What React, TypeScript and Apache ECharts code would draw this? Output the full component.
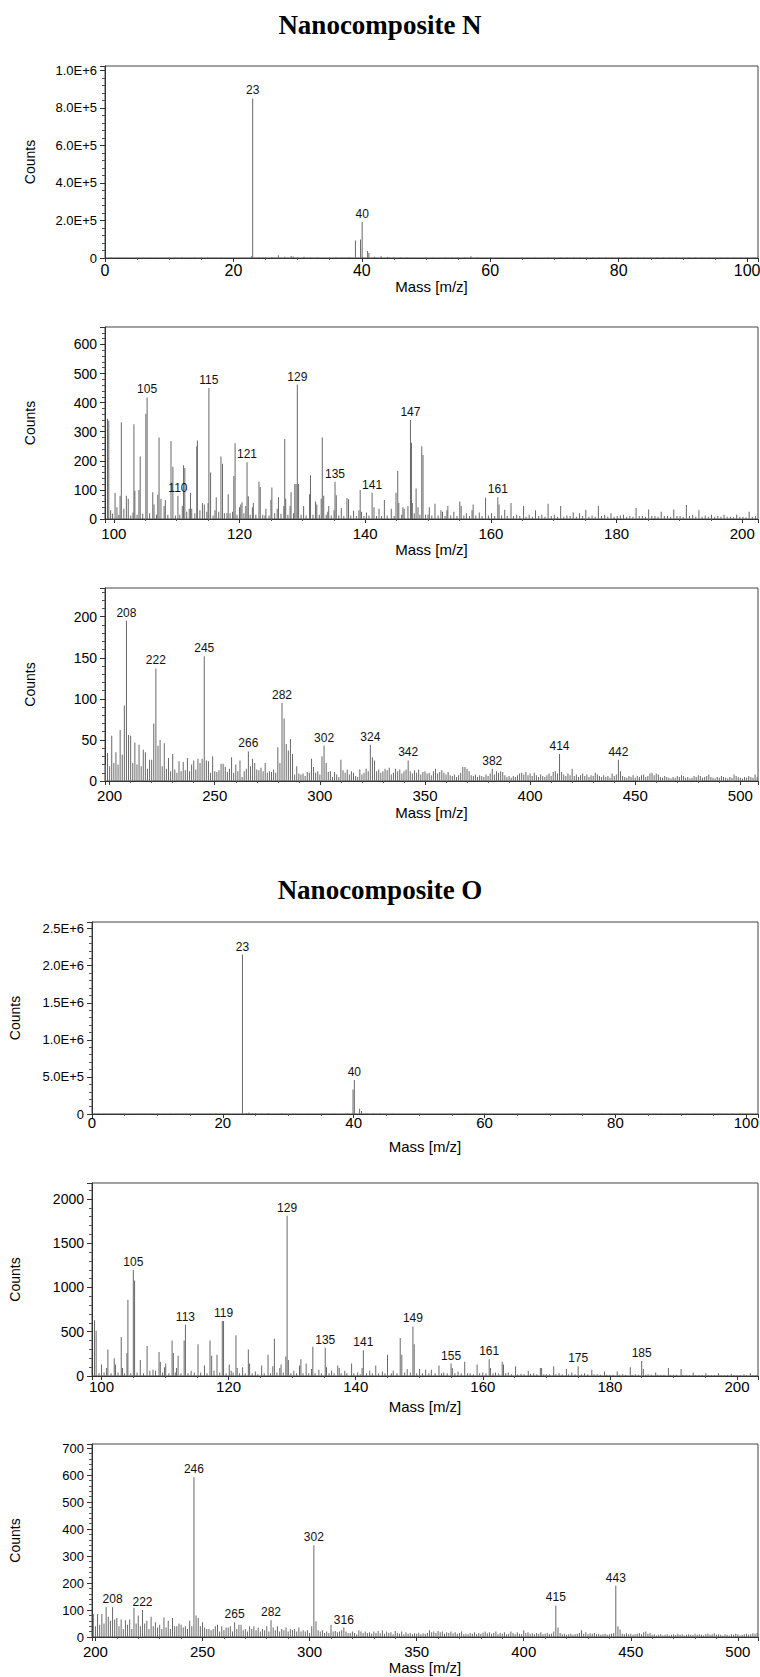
import React, { useEffect, useRef } from "react";
import * as echarts from "echarts";

const titleN = "Nanocomposite N";
const titleO = "Nanocomposite O";
const xName = "Mass [m/z]";
const yName = "Counts";

// ---------- Nanocomposite N, 0-100 ----------
const nLowPeaks: [number, number][] = [
  [1,1500],[2,1200],[3,1800],[4,1400],[5,1600],[6,1300],[7,1500],[8,1200],[9,1700],[10,1300],
  [11,1500],[12,2400],[13,1800],[14,2600],[15,2000],[16,2800],[17,1900],[18,2500],[19,1600],[20,1400],
  [21,1200],[22,1500],[22.8,9000],[23,850000],[23.5,3000],[24,4500],[24.6,3000],[25,4000],[26,5500],
  [27,15000],[28,6000],[29,11000],[29.3,8000],[30,3500],[31,6500],[32,3000],[33,2000],[34,1800],
  [35,2200],[36,2500],[37,3000],[38,4000],[39,93000],[39.8,98000],[40.05,192000],[40.9,37000],
  [41.1,26000],[42,7000],[43,9000],[44,5000],[45,3500],[46,2500],[47,2000],[48,1800],[50,2200],
  [51,1800],[53,2500],[54,2000],[55,3000],[56,2500],[57,9000],[58,2500],[59,1800],[60,1600],[62,1500],
  [64,1400],[65,1700],[67,1500],[69,2000],[70,1800],[71,2200],[72,2500],[73,2600],[74,2400],[75,2500],
  [76,2700],[77,2400],[78,2600],[79,2500],[80,2400],[81,2600],[82,2500],[83,2700],[84,2400],[85,2600],
  [86,2500],[87,2400],[88,2600],[89,2700],[90,2500],[91,2400],[92,2600],[93,2500],[94,2700],[95,2400],
  [96,2600],[97,2500],[98,2400],[99,2600],[100,2500],[101,2400],
];
const nLowLabels = [23, 40.05];

// ---------- Nanocomposite N, 100-200 ----------
const nMidPeaks: [number, number][] = [
  [99.0,345],[99.2,338],[99.5,30],[99.8,18],[100.2,89],[100.5,40],[100.8,15],[101.0,80],[101.2,333],
  [101.6,35],[102.0,80],[102.3,70],[102.7,12],[103.05,22],[103.2,326],[103.35,97],[103.7,15],[104.0,100],
  [104.2,215],[104.6,18],[105.1,362],[105.3,418],[105.7,20],[106.2,92],[106.4,50],[106.8,15],[107.0,83],
  [107.2,280],[107.5,70],[108.0,45],[108.2,65],[108.6,15],[109.1,268],[109.4,180],[109.8,12],[110.2,80],
  [110.5,15],[110.9,45],[111.1,185],[111.3,175],[111.6,25],[112.0,35],[112.2,90],[112.4,35],[112.9,20],
  [113.2,250],[113.3,270],[113.7,30],[114.1,55],[114.4,50],[114.8,25],[115.0,55],[115.13,450],[115.4,160],
  [115.8,12],[116.1,30],[116.3,75],[116.7,25],[117.05,215],[117.3,190],[117.6,20],[118.0,20],[118.2,85],
  [118.5,20],[118.9,25],[119.1,148],[119.3,260],[119.6,15],[120.0,40],[120.2,50],[120.4,58],[120.7,20],
  [121.0,45],[121.2,195],[121.4,78],[121.7,15],[122.05,40],[122.2,55],[122.6,15],[123.1,128],[123.3,110],
  [123.7,15],[124.05,12],[124.2,35],[124.7,12],[125.0,65],[125.15,108],[125.6,20],[126.0,35],[126.2,75],
  [126.6,18],[127.05,45],[127.2,275],[127.35,70],[127.7,15],[128.05,45],[128.2,92],[128.6,20],[128.8,120],
  [129.0,120],[129.2,462],[129.4,120],[129.8,15],[130.2,45],[130.6,12],[131.15,85],[131.3,150],[131.7,15],
  [132.1,60],[132.3,50],[132.7,15],[133.0,70],[133.17,280],[133.4,80],[133.8,15],[134.05,25],[134.2,45],
  [134.6,12],[135.05,30],[135.2,128],[135.4,82],[135.8,12],[136.2,38],[136.6,10],[137.1,72],[137.35,68],
  [137.7,12],[138.15,28],[138.6,10],[139.0,30],[139.2,100],[139.4,25],[139.8,10],[140.2,22],[140.6,12],
  [141.1,90],[141.4,40],[141.8,10],[142.2,35],[142.6,10],[143.05,65],[143.5,12],[144.15,35],[144.6,10],
  [144.9,90],[145.18,165],[145.35,55],[145.8,15],[146.0,40],[146.2,35],[146.8,45],[147.2,340],[147.36,262],
  [147.5,55],[147.8,20],[148.1,105],[148.4,40],[148.7,15],[149.0,250],[149.2,220],[149.6,15],[150.0,15],
  [150.2,40],[150.6,12],[151.1,52],[151.6,12],[152.05,30],[152.3,25],[152.7,10],[153.0,30],[153.15,45],
  [153.6,12],[154.1,25],[154.6,10],[155.05,60],[155.27,45],[155.7,12],[156.1,20],[156.6,10],[157.0,30],
  [157.18,50],[157.6,12],[158.15,22],[158.6,10],[159.15,73],[159.6,12],[160.1,20],[160.6,10],[161.1,75],
  [161.3,50],[161.7,12],[162.2,32],[162.6,10],[163.2,55],[163.6,10],[164.1,15],[164.6,10],[165.2,45],
  [165.6,8],[166.1,15],[166.6,8],[167.1,30],[167.6,10],[168.1,15],[168.6,8],[169.1,52],[169.6,10],
  [170.1,15],[170.6,8],[171.1,45],[171.6,8],[172.1,12],[172.6,10],[173.1,22],[173.6,8],[174.1,20],
  [174.6,10],[175.1,32],[175.6,8],[176.1,12],[176.6,8],[177.1,45],[177.6,10],[178.1,15],[178.6,8],
  [179.1,20],[179.6,8],[180.1,10],[180.6,12],[181.1,15],[181.6,8],[182.1,10],[182.6,8],[183.1,38],
  [183.6,10],[184.1,10],[184.6,8],[185.1,33],[185.6,10],[186.1,10],[186.6,8],[187.1,25],[187.6,10],
  [188.1,10],[188.6,8],[189.1,33],[189.6,10],[190.1,10],[190.6,8],[191.1,48],[191.6,10],[192.1,15],
  [192.6,8],[193.1,30],[193.6,8],[194.1,12],[194.6,8],[195.1,15],[195.6,8],[196.1,10],[196.6,8],
  [197.1,15],[197.6,8],[198.1,8],[198.6,6],[199.1,15],[199.6,8],[200.1,8],[200.6,6],[201.1,25],
  [201.6,8],[202.1,10],
];
const nMidLabels = [105.3, 110.2, 115.13, 121.2, 129.2, 135.2, 141.1, 147.2, 161.1];

// ---------- Nanocomposite N, 200-500 (one count per integer mass from 198) ----------
const nHighStart = 198;
const nHighCounts = [
  20,34,18,55,22,35,20,62,32,92,195,56,55,22,47,20,44,18,38,35,
  15,26,26,70,137,43,50,18,46,15,28,12,33,14,10,24,12,23,13,28,
  12,20,25,14,27,22,27,152,25,24,10,30,12,11,13,21,21,17,11,15,
  29,10,20,12,25,5,12,15,36,18,27,22,14,13,16,12,22,10,12,11,
  14,10,41,22,95,76,45,37,51,33,8,18,9,8,9,6,11,10,27,17,
  10,12,8,30,43,22,11,12,5,11,8,5,26,13,10,14,8,12,10,6,
  5,14,8,10,15,12,44,29,25,12,14,10,12,15,13,16,8,10,15,12,
  14,9,12,14,25,12,9,13,10,14,8,11,12,9,10,7,12,15,9,11,
  13,10,8,11,7,6,8,5,7,10,17,17,15,12,7,6,8,5,7,6,
  5,8,6,9,15,8,12,10,12,11,7,5,6,4,6,5,7,9,10,8,
  11,7,9,6,10,7,5,8,6,5,7,9,6,11,12,9,33,11,8,6,
  9,7,15,6,8,5,7,9,6,8,5,7,6,10,8,6,5,7,5,6,
  4,9,6,8,26,12,6,5,4,6,5,7,4,6,5,7,8,5,6,9,
  10,7,9,8,5,4,6,5,4,3,5,4,6,5,7,6,4,5,3,4,
  6,5,7,6,4,5,6,8,5,4,3,5,4,6,5,4,3,5,4,8,
  6,5,4,3,5,4,6,5,4,8,5,
];
const nHighLabels = [208, 222, 245, 266, 282, 302, 324, 342, 382, 414, 442];

// ---------- Nanocomposite O, 0-100 ----------
const oLowPeaks: [number, number][] = [
  [1,4000],[2,3500],[3,4500],[4,3800],[5,4200],[6,3600],[7,4000],[8,3500],[9,4300],[10,3700],
  [11,4100],[12,3600],[13,4200],[14,3900],[15,4400],[16,3800],[17,4000],[18,3700],[19,3500],[20,3000],
  [22,4000],[23,2150000],[23.6,12000],[24,20000],[24.5,15000],[25,12000],[26,6000],[27,9000],[28,5000],
  [29,7000],[31,5000],[33,3000],[35,3000],[37,3500],[39,8000],[39.9,330000],[40.1,460000],[40.9,70000],
  [41.2,40000],[42,10000],[43,8000],[44,6000],[46,3000],[50,2500],[56,5000],[57,4000],[60,2500],
  [65,2500],[70,3000],[72,4000],[73,4200],[74,3800],[75,4100],[76,3900],[77,4300],[78,4000],[79,3800],
  [80,4200],[81,4000],[82,3900],[83,4100],[84,3800],[85,4200],[86,4000],[87,3900],[88,4100],[89,4000],
  [90,3800],[91,4200],[92,4000],[93,3900],[94,4100],[95,4000],[96,3800],[97,4200],[98,4000],[99,3900],
  [100,4100],[101,4000],
];
const oLowLabels = [23, 40.1];

// ---------- Nanocomposite O, 100-200 ----------
const oMidPeaks: [number, number][] = [
  [98.9,630],[99.15,510],[99.6,30],[100.0,130],[100.4,40],[100.8,90],[101.0,300],[101.5,30],[102.0,200],
  [102.2,130],[102.6,40],[103.1,440],[103.3,90],[103.6,30],[104.0,260],[104.15,860],[104.6,30],[105.0,1200],
  [105.2,1080],[105.6,40],[106.1,180],[106.6,30],[107.17,340],[107.6,60],[108.1,70],[108.5,60],[109.05,270],
  [109.25,160],[109.6,40],[109.9,100],[110.1,140],[110.6,30],[111.1,400],[111.3,260],[111.6,40],[111.8,90],
  [112.05,230],[112.5,30],[113.0,400],[113.2,580],[113.6,30],[114.1,60],[114.6,40],[115.18,360],[115.6,40],
  [116.2,120],[116.6,30],[117.07,400],[117.33,230],[117.7,60],[118.17,240],[118.6,40],[119.0,620],
  [119.2,620],[119.6,30],[120.1,130],[120.4,60],[120.7,40],[121.15,460],[121.35,90],[121.7,30],[122.2,100],
  [122.6,30],[123.1,300],[123.3,140],[123.7,30],[124.2,50],[124.6,20],[125.2,120],[125.6,30],[126.2,240],
  [126.6,30],[126.95,110],[127.2,420],[127.6,40],[128.05,90],[128.25,130],[128.6,40],[129.0,220],
  [129.2,1810],[129.4,180],[129.8,30],[130.26,60],[130.7,30],[131.15,120],[131.37,190],[131.7,30],
  [132.2,140],[132.6,30],[133.05,80],[133.25,330],[133.6,30],[134.2,70],[134.6,30],[135.2,320],[135.4,100],
  [135.8,30],[136.2,60],[136.6,30],[137.17,120],[137.4,90],[137.7,30],[138.27,60],[138.6,30],[139.35,140],
  [139.7,30],[140.3,40],[140.7,20],[141.0,90],[141.2,290],[141.7,30],[142.2,60],[142.6,30],[143.15,120],
  [143.6,30],[144.2,50],[144.6,30],[145.0,240],[145.6,30],[145.9,60],[146.5,30],[147.0,430],[147.25,240],
  [147.7,40],[148.1,80],[148.6,40],[149.0,560],[149.2,360],[149.6,30],[150.05,80],[150.5,30],[151.0,70],
  [151.5,30],[151.9,70],[152.5,30],[153.1,120],[153.5,30],[153.85,40],[154.4,30],[155.0,140],[155.2,90],
  [155.6,30],[156.1,50],[156.6,30],[157.15,160],[157.6,30],[158.0,30],[158.5,20],[159.1,130],[159.5,30],
  [160.0,40],[160.5,30],[161.0,190],[161.2,90],[161.6,30],[162.0,40],[162.5,30],[163.05,160],[163.25,130],
  [163.6,30],[164.0,40],[164.5,20],[165.15,110],[165.5,20],[166.0,25],[166.5,20],[167.15,60],[167.5,25],
  [168.0,30],[168.5,20],[169.05,90],[169.25,90],[169.6,20],[170.0,20],[170.5,20],[171.15,110],[171.5,20],
  [172.0,30],[172.5,20],[173.15,80],[173.5,20],[174.0,40],[174.5,20],[175.0,110],[175.5,20],[176.0,30],
  [176.5,20],[177.15,70],[177.5,20],[178.0,20],[178.5,15],[179.15,50],[179.5,15],[180.0,15],[180.5,15],
  [181.15,50],[181.5,15],[182.0,20],[182.5,15],[183.2,100],[183.5,15],[184.0,20],[184.5,15],[185.0,170],
  [185.25,80],[185.6,15],[186.0,20],[186.5,15],[187.2,40],[187.5,15],[188.0,15],[188.5,15],[189.2,90],
  [189.5,15],[190.0,15],[190.5,15],[191.2,80],[191.5,15],[192.0,15],[192.5,10],[193.1,40],[193.5,10],
  [194.0,10],[194.5,10],[195.1,30],[195.5,10],[196.0,10],[196.5,10],[197.1,30],[197.5,10],[198.0,10],
  [198.5,10],[199.1,25],[199.5,10],[200.0,10],[200.5,10],[201.1,20],[201.5,10],[202.1,30],[202.5,10],
  [203.0,10],
];
const oMidLabels = [105.0, 113.2, 119.2, 129.2, 135.2, 141.2, 149.0, 155.0, 161.0, 175.0, 185.0];

// ---------- Nanocomposite O, 200-500 (one count per integer mass from 199) ----------
const oHighStart = 199;
const oHighCounts = [
  85,40,85,45,85,50,110,75,60,110,65,70,40,65,30,62,45,65,30,108,
  50,80,40,100,50,60,30,75,40,55,35,45,30,72,35,60,30,70,40,40,
  50,45,35,40,30,60,40,592,80,70,40,55,35,30,30,25,30,40,45,20,
  40,25,35,35,40,20,55,30,45,45,25,30,20,40,30,40,25,35,20,30,
  25,40,20,62,35,25,40,20,30,25,35,20,30,25,30,20,35,20,25,20,
  25,15,40,340,58,25,20,25,15,20,15,45,20,22,18,20,25,35,20,15,
  15,20,15,10,25,20,15,20,15,18,12,20,15,22,14,25,12,20,15,18,
  10,22,15,12,20,10,18,12,15,10,14,12,16,10,14,12,15,25,18,20,
  15,22,18,20,12,18,15,20,14,18,12,15,20,10,12,10,15,12,18,10,
  15,12,16,20,14,18,12,15,20,10,15,12,18,10,12,20,15,10,18,12,
  10,25,15,18,12,14,10,15,12,18,10,12,15,10,12,20,117,35,15,10,
  12,8,10,12,8,10,12,15,25,12,18,10,14,12,15,10,12,8,10,12,
  8,10,12,15,190,40,28,12,10,14,10,12,8,10,12,15,10,18,20,12,
  15,8,10,6,8,10,6,8,10,6,8,10,7,12,8,10,6,8,10,8,
  7,12,8,10,8,6,10,12,8,10,14,8,10,8,6,10,8,6,10,8,
  12,10,6,8,10,12,8,10,14,12,15,
];
const oHighLabels = [208, 222, 246, 265, 282, 302, 316, 415, 443];

const SANS = "'Liberation Sans', Arial, Helvetica, sans-serif";
const SERIF = "'Liberation Serif', 'Times New Roman', serif";

const toPairs = (start: number, counts: number[]): [number, number][] =>
  counts.map((c, i) => [start + i, c] as [number, number]);

const expFmt = (v: number) => (v === 0 ? "0" : v.toExponential(1).toUpperCase());
const plainFmt = (v: number) => String(v);

const panels = [
  { data: nLowPeaks, labels: nLowLabels, grid: { left: 105, top: 66, width: 653, height: 192 },
    xMin: 0, xMax: 101.7, xInterval: 20, xMinor: 4, yMax: 1.023e6, yInterval: 2e5, yFmt: expFmt,
    xFont: 16, yFont: 13, xMargin: 4, xNameGap: 11, yNameGap: 68, showMin: true },
  { data: nMidPeaks, labels: nMidLabels, grid: { left: 105, top: 327, width: 653, height: 192 },
    xMin: 98.6, xMax: 202.5, xInterval: undefined, xMinor: 4, yMax: 660, yInterval: 100, yFmt: plainFmt,
    xFont: 15, yFont: 14, xMargin: 7, xNameGap: 23, yNameGap: 68, showMin: false },
  { data: toPairs(nHighStart, nHighCounts), labels: nHighLabels, grid: { left: 105, top: 588, width: 653, height: 193 },
    xMin: 197.8, xMax: 508.4, xInterval: undefined, xMinor: 5, yMax: 235, yInterval: 50, yFmt: plainFmt,
    xFont: 15, yFont: 14, xMargin: 7, xNameGap: 24, yNameGap: 68, showMin: false },
  { data: oLowPeaks, labels: oLowLabels, grid: { left: 92, top: 922, width: 666, height: 192 },
    xMin: 0, xMax: 101.8, xInterval: 20, xMinor: 4, yMax: 2.59e6, yInterval: 5e5, yFmt: expFmt,
    xFont: 15, yFont: 13, xMargin: 1, xNameGap: 25, yNameGap: 70, showMin: true },
  { data: oMidPeaks, labels: oMidLabels, grid: { left: 92, top: 1183, width: 666, height: 193 },
    xMin: 98.5, xMax: 203.3, xInterval: undefined, xMinor: 4, yMax: 2180, yInterval: 500, yFmt: plainFmt,
    xFont: 15, yFont: 14, xMargin: 3, xNameGap: 23, yNameGap: 70, showMin: false },
  { data: toPairs(oHighStart, oHighCounts), labels: oHighLabels, grid: { left: 92, top: 1444, width: 666, height: 193 },
    xMin: 198.4, xMax: 509.4, xInterval: undefined, xMinor: 5, yMax: 715, yInterval: 100, yFmt: plainFmt,
    xFont: 15, yFont: 13, xMargin: 7, xNameGap: 15, yNameGap: 70, showMin: false },
];

export default function App() {
  const ref = useRef<HTMLDivElement>(null);
  useEffect(() => {
    document.body.style.margin = "0";
    const chart = echarts.init(ref.current!, undefined, { renderer: "svg" });
    const option: any = {
      animation: false,
      backgroundColor: "#ffffff",
      title: [
        { text: titleN, left: "center", top: 6,
          textStyle: { fontFamily: SERIF, fontWeight: "bold", fontSize: 27, color: "#000" } },
        { text: titleO, left: "center", top: 871,
          textStyle: { fontFamily: SERIF, fontWeight: "bold", fontSize: 27, color: "#000" } },
      ],
      grid: panels.map((p) => ({
        ...p.grid, show: true, borderColor: "#444", borderWidth: 1, backgroundColor: "transparent",
        containLabel: false, outerBoundsMode: "none",
      })),
      xAxis: panels.map((p, i) => ({
        type: "value", gridIndex: i, min: p.xMin, max: p.xMax,
        ...(p.xInterval ? { interval: p.xInterval } : { splitNumber: 5 }),
        name: xName, nameLocation: "middle", nameGap: p.xNameGap,
        nameTextStyle: { fontFamily: SANS, fontSize: 15, color: "#000" },
        axisLine: { show: true, onZero: false, lineStyle: { color: "#333", width: 1 } },
        axisTick: { show: true, length: 4, lineStyle: { color: "#333" } },
        minorTick: { show: true, splitNumber: p.xMinor, length: 2, lineStyle: { color: "#555" } },
        axisLabel: { fontFamily: SANS, fontSize: p.xFont, color: "#000", margin: p.xMargin,
          showMinLabel: p.showMin, showMaxLabel: false },
        splitLine: { show: false },
      })),
      yAxis: panels.map((p, i) => ({
        type: "value", gridIndex: i, min: 0, max: p.yMax, interval: p.yInterval,
        name: yName, nameLocation: "middle", nameGap: p.yNameGap,
        nameTextStyle: { fontFamily: SANS, fontSize: 14, color: "#000" },
        axisLine: { show: true, onZero: false, lineStyle: { color: "#333", width: 1 } },
        axisTick: { show: true, length: 5, lineStyle: { color: "#333" } },
        minorTick: { show: true, splitNumber: 5, length: 3, lineStyle: { color: "#555" } },
        axisLabel: { fontFamily: SANS, fontSize: p.yFont, color: "#000", margin: 8,
          showMaxLabel: false, formatter: p.yFmt },
        splitLine: { show: false },
      })),
      series: panels.map((p, i) => ({
        type: "bar", xAxisIndex: i, yAxisIndex: i, barWidth: 1,
        itemStyle: { color: "#686868" },
        label: { show: false, position: "top", distance: 2, fontFamily: SANS, fontSize: 12, color: "#111",
          formatter: (q: any) => String(Math.round(q.value[0])) },
        data: p.data.map(([m, c]) =>
          p.labels.includes(m) ? { value: [m, c], label: { show: true } } : [m, c]),
      })),
    };
    chart.setOption(option);
    return () => chart.dispose();
  }, []);
  return <div ref={ref} style={{ width: 760, height: 1677 }} />;
}
